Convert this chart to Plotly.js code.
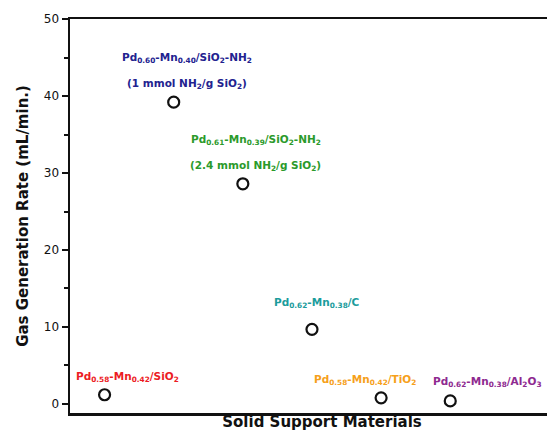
<!DOCTYPE html>
<html>
<head>
<meta charset="utf-8">
<script src="https://cdn.plot.ly/plotly-3.0.1.min.js"></script>
<style>
  html, body { margin: 0; padding: 0; background: #fff; overflow: hidden; }
  #chart { width: 575px; height: 435px; }
</style>
</head>
<body>
<div id="chart"></div>
<script>
// Catalyst order along the x axis (categorical positions 1..6)
const positions = [1, 2, 3, 4, 5, 6];

// Gas generation rate for each supported Pd-Mn catalyst (mL/min.)
const rates = [1.2, 39.2, 28.6, 9.7, 0.8, 0.4];

// Catalyst names (first line) and loading notes (second line, may be empty)
const names = [
  "Pd<sub>0.58</sub>-Mn<sub>0.42</sub>/SiO<sub>2</sub>",
  "Pd<sub>0.60</sub>-Mn<sub>0.40</sub>/SiO<sub>2</sub>-NH<sub>2</sub>",
  "Pd<sub>0.61</sub>-Mn<sub>0.39</sub>/SiO<sub>2</sub>-NH<sub>2</sub>",
  "Pd<sub>0.62</sub>-Mn<sub>0.38</sub>/C",
  "Pd<sub>0.58</sub>-Mn<sub>0.42</sub>/TiO<sub>2</sub>",
  "Pd<sub>0.62</sub>-Mn<sub>0.38</sub>/Al<sub>2</sub>O<sub>3</sub>"
];
const notes = [
  "",
  "(1 mmol NH<sub>2</sub>/g SiO<sub>2</sub>)",
  "(2.4 mmol NH<sub>2</sub>/g SiO<sub>2</sub>)",
  "",
  "",
  ""
];

// Label styling: colour and pixel offset of each label from its marker
const labelColors = ["#ec1c24", "#22228f", "#2b9a2b", "#1b9c9c", "#f6a01a", "#8e2a90"];
const labelShiftX = [23, 13, 13, 5, -16, 37];
const labelShiftY = [18, 44, 44, 26, 18, 19];   // name line, above marker
const noteGap = 26;                               // second line sits below the first

const FONT = "DejaVu Sans, sans-serif";

const annotations = [];
positions.forEach((x, i) => {
  annotations.push({
    x: x, y: rates[i], xref: "x", yref: "y",
    text: names[i], showarrow: false,
    xshift: labelShiftX[i], yshift: labelShiftY[i],
    font: { family: FONT, size: 10.5, color: labelColors[i], weight: "bold" }
  });
  if (notes[i]) {
    annotations.push({
      x: x, y: rates[i], xref: "x", yref: "y",
      text: notes[i], showarrow: false,
      xshift: labelShiftX[i], yshift: labelShiftY[i] - noteGap,
      font: { family: FONT, size: 10.5, color: labelColors[i], weight: "bold" }
    });
  }
});

const trace = {
  x: positions, y: rates, type: "scatter", mode: "markers",
  marker: { symbol: "circle-open", size: 11, color: "#111", line: { width: 2.2, color: "#111" } },
  hoverinfo: "skip"
};

const layout = {
  width: 575, height: 435,
  margin: { l: 70, r: 1, t: 19, b: 22 },
  paper_bgcolor: "#fff", plot_bgcolor: "#fff",
  showlegend: false,
  font: { family: FONT, color: "#111" },
  xaxis: {
    range: [0.5, 7.79],
    showgrid: false, zeroline: false, showticklabels: false, ticks: "",
    showline: true, linecolor: "#111", linewidth: 2.5, mirror: true,
    title: { text: "Solid Support Materials", standoff: 2,
             font: { family: FONT, size: 15, color: "#111", weight: "bold" } }
  },
  yaxis: {
    range: [-1.17, 50],
    tickvals: [0, 10, 20, 30, 40, 50],
    showgrid: false, zeroline: false,
    showline: true, linecolor: "#111", linewidth: 2.5, mirror: true,
    ticks: "outside", ticklen: 6, tickwidth: 2, tickcolor: "#111",
    minor: { tickvals: [5, 15, 25, 35, 45], ticks: "outside", ticklen: 4, tickwidth: 2, tickcolor: "#111" },
    tickfont: { family: FONT, size: 12, color: "#111" },
    title: { text: "Gas Generation Rate (mL/min.)", standoff: 12,
             font: { family: FONT, size: 15, color: "#111", weight: "bold" } }
  },
  annotations: annotations
};

Plotly.newPlot("chart", [trace], layout, { displayModeBar: false, staticPlot: true });
</script>
</body>
</html>
